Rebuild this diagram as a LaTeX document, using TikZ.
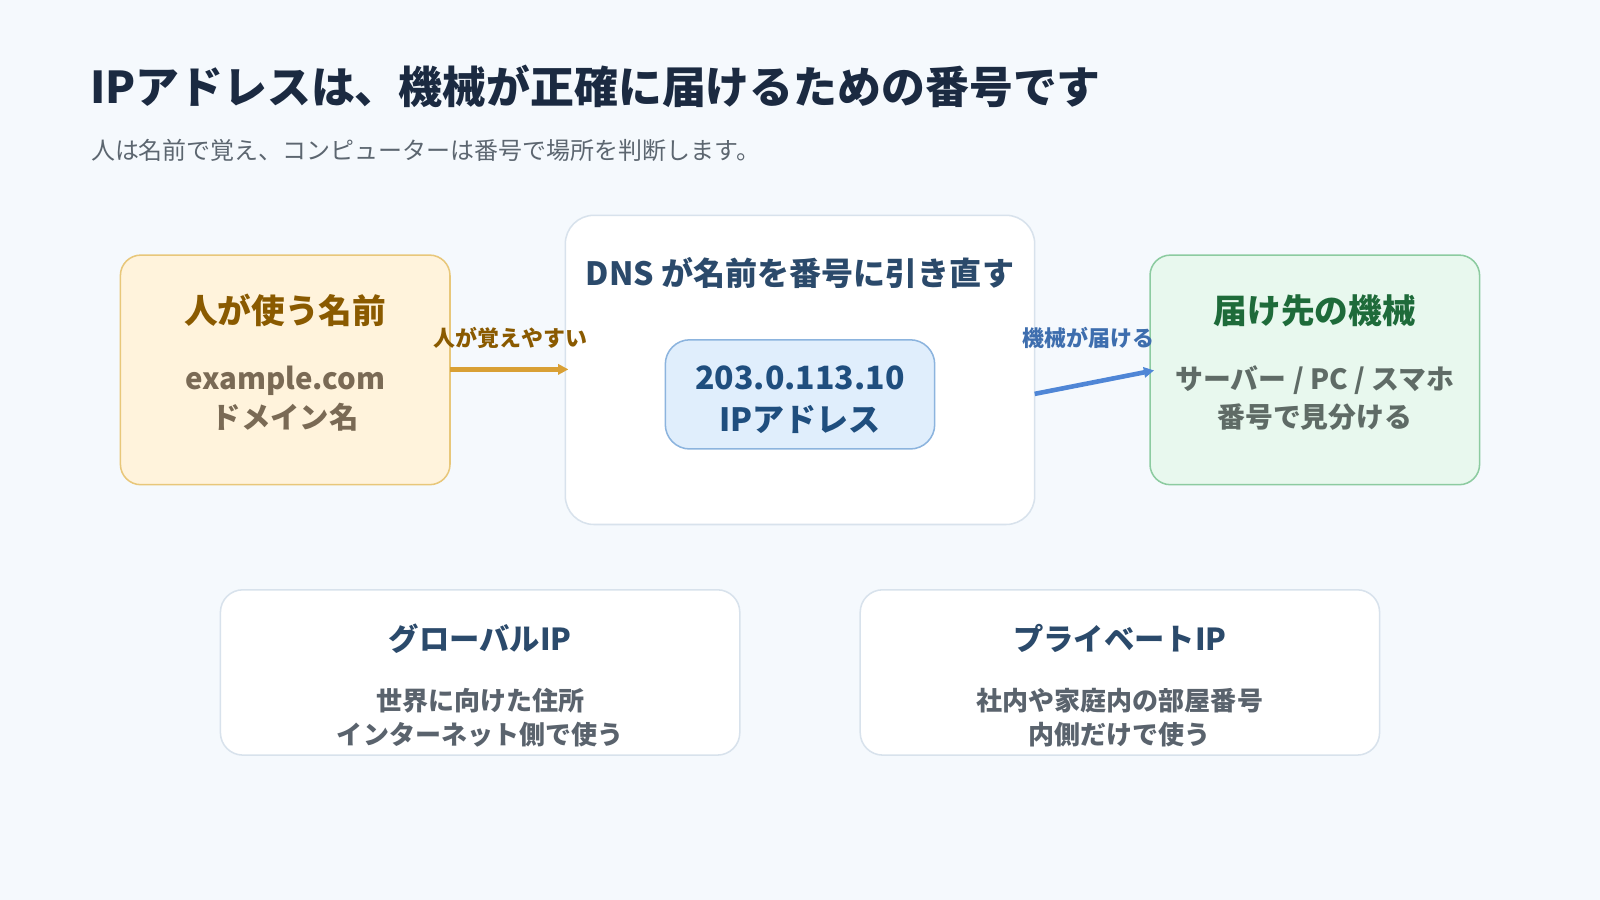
\documentclass[tikz,border=0pt]{standalone}
\usepackage{fontspec}
\setmainfont{Noto Sans CJK JP}
\usetikzlibrary{arrows.meta}
\definecolor{bg}{HTML}{F5F9FD}
\definecolor{navy}{HTML}{1B2A41}
\definecolor{subg}{HTML}{5C6670}
\definecolor{yfill}{HTML}{FFF3DC}\definecolor{ystroke}{HTML}{E8C77A}\definecolor{ytext}{HTML}{8A5A00}\definecolor{ybody}{HTML}{7A6A55}
\definecolor{gfill}{HTML}{E8F8EE}\definecolor{gstroke}{HTML}{8CCBA0}\definecolor{gtext}{HTML}{1E6B3A}\definecolor{gbody}{HTML}{5F6B66}
\definecolor{bfill}{HTML}{E0EEFC}\definecolor{bstroke}{HTML}{8CB4DE}\definecolor{btext}{HTML}{1F4E7E}
\definecolor{wstroke}{HTML}{D8E2EC}\definecolor{ctitle}{HTML}{2B4A6B}\definecolor{bodyg}{HTML}{5A636D}
\definecolor{yarrow}{HTML}{D9A035}\definecolor{barrow}{HTML}{4F86D6}\definecolor{blab}{HTML}{3E6EAE}
\tikzset{
  box/.style={draw, line width=1.5pt, rounded corners=20pt},
  t/.style={font=\fontsize{#1}{#1}\selectfont\bfseries, anchor=base, inner sep=0},
  arr/.style={line width=4.5pt, -{Triangle[length=10pt,width=10pt]}},
}
\begin{document}
\begin{tikzpicture}[x=1pt,y=-1pt]
\fill[bg] (0,0) rectangle (1568,882);
\useasboundingbox (0,0) rectangle (1568,882);
\node[t=43, anchor=base west, text=navy] (title) at (88,101) {IPアドレスは、機械が正確に届けるための番号です};
\node[anchor=base west, inner sep=0, font=\fontsize{23.5}{23.5}\selectfont, text=subg] (sub) at (89,156) {人は名前で覚え、コンピューターは番号で場所を判断します。};
% boxes
\draw[box, fill=yfill, draw=ystroke] (118,250) rectangle (441,475);
\node[t=33, text=ytext] (yt) at (279.5,317) {人が使う名前};
\node[t=28.8, text=ybody] (y1) at (279.5,382) {example.com};
\node[t=28.8, text=ybody] (y2) at (279.5,420) {ドメイン名};
\draw[box, fill=white, draw=wstroke, rounded corners=28pt] (554,211) rectangle (1014,514);
\node[t=31.4, text=ctitle] (ct) at (784,280) {DNS が名前を番号に引き直す};
\draw[box, fill=bfill, draw=bstroke, rounded corners=24pt] (652,333) rectangle (916,440);
\node[t=31.4, text=btext] (b1) at (784,382) {203.0.113.10};
\node[t=31.4, text=btext] (b2) at (784,423) {IPアドレス};
\draw[box, fill=gfill, draw=gstroke] (1127,250) rectangle (1450,475);
\node[t=33, text=gtext] (gt) at (1288.5,317) {届け先の機械};
\node[t=27.3, text=gbody] (g1) at (1288.5,382) {サーバー / PC / スマホ};
\node[t=27.3, text=gbody] (g2) at (1288.5,419) {番号で見分ける};
% arrows
\coordinate (a1s) at (441,362); \coordinate (a1e) at (557,362);
\draw[arr, draw=yarrow, color=yarrow] (a1s) -- (a1e);
\node[t=21.5, text=ytext] (l1) at (500,340) {人が覚えやすい};
\coordinate (a2s) at (1014,386); \coordinate (a2e) at (1131,363);
\draw[arr, draw=barrow, color=barrow] (a2s) -- (a2e);
\node[t=21.5, text=blab] (l2) at (1067,340) {機械が届ける};
% bottom
\draw[box, fill=white, draw=wstroke, rounded corners=22pt] (216,578) rectangle (725,740);
\node[t=29.7, text=ctitle] (p1) at (470.5,637) {グローバルIP};
\node[t=25.5, text=bodyg] (p1a) at (470.5,696) {世界に向けた住所};
\node[t=25.5, text=bodyg] (p1b) at (470.5,730) {インターネット側で使う};
\draw[box, fill=white, draw=wstroke, rounded corners=22pt] (843,578) rectangle (1352,740);
\node[t=29.7, text=ctitle] (p2) at (1097.5,637) {プライベートIP};
\node[t=25.5, text=bodyg] (p2a) at (1097.5,696) {社内や家庭内の部屋番号};
\node[t=25.5, text=bodyg] (p2b) at (1097.5,730) {内側だけで使う};
\end{tikzpicture}
\end{document}
